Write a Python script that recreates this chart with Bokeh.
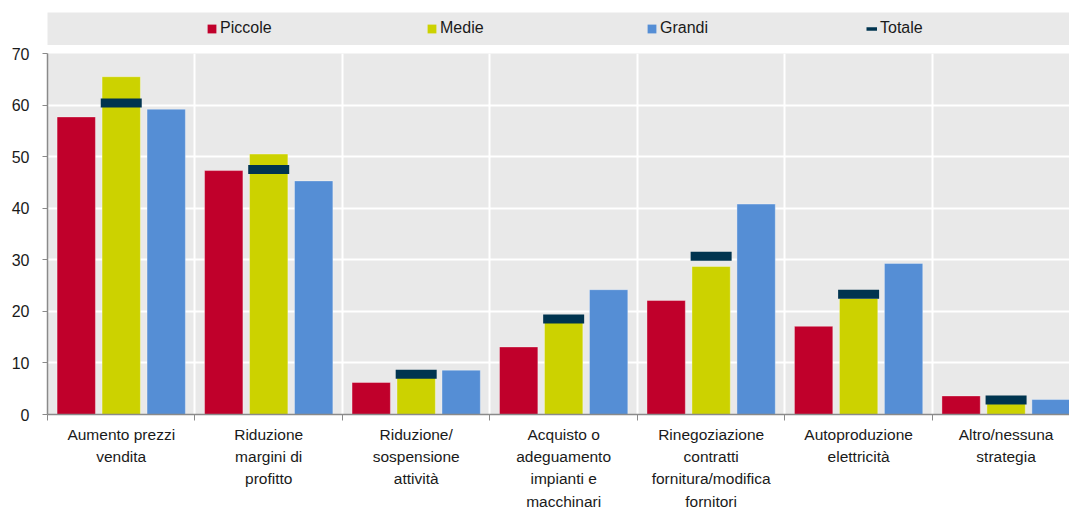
import numpy as np
from bokeh.plotting import figure
from bokeh.models import ColumnDataSource, FixedTicker, Legend, LegendItem, Range1d
from bokeh.transform import dodge
from bokeh.layouts import column
from bokeh.embed import file_html
from bokeh.resources import INLINE

categories = [
    "Aumento prezzi\nvendita",
    "Riduzione\nmargini di\nprofitto",
    "Riduzione/\nsospensione\nattività",
    "Acquisto o\nadeguamento\nimpianti e\nmacchinari",
    "Rinegoziazione\ncontratti\nfornitura/modifica\nfornitori",
    "Autoproduzione\nelettricità",
    "Altro/nessuna\nstrategia",
]
piccole = [57.7, 47.3, 6.2, 13.1, 22.1, 17.1, 3.6]
medie = [65.5, 50.5, 7.2, 18.0, 28.7, 22.5, 2.1]
grandi = [59.2, 45.3, 8.6, 24.2, 40.8, 29.3, 2.9]
totale = [60.4, 47.5, 7.8, 18.5, 30.7, 23.3, 2.8]
y_ticks = [0, 10, 20, 30, 40, 50, 60, 70]

RED = "#C0002B"
YEL = "#CCD200"
BLUE = "#558ED5"
NAVY = "#00344F"
BG = "#E9E9E9"
FONT = "Liberation Sans"
GRAYAX = "#8A8A8A"

n = len(categories)
centers = [i + 0.5 for i in range(n)]
bounds = list(range(n + 1))

src = ColumnDataSource(dict(x=centers, piccole=piccole, medie=medie,
                            grandi=grandi, totale=totale))

p = figure(width=1069, height=467, x_range=Range1d(0, 6.93), y_range=Range1d(0, 70),
           toolbar_location=None, output_backend="svg",
           min_border_left=47, min_border_right=0, min_border_top=8, min_border_bottom=97,
           background_fill_color=BG, border_fill_color="white", outline_line_color=None)

BW = 0.26
OFF = 0.305
p.vbar(x=dodge("x", -OFF, range=p.x_range), top="piccole", width=BW, source=src,
       fill_color=RED, line_color="white", line_alpha=0.35, line_width=1)
p.vbar(x=dodge("x", 0, range=p.x_range), top="medie", width=BW, source=src,
       fill_color=YEL, line_color="white", line_alpha=0.35, line_width=1)
p.vbar(x=dodge("x", OFF, range=p.x_range), top="grandi", width=BW, source=src,
       fill_color=BLUE, line_color="white", line_alpha=0.35, line_width=1)
p.rect(x="x", y="totale", width=0.278, height=9, height_units="screen", source=src,
       fill_color=NAVY, line_color=None)

# axes
p.xaxis.ticker = FixedTicker(ticks=centers, minor_ticks=bounds)
p.xaxis.major_label_overrides = {c: lab for c, lab in zip(centers, categories)}
p.xaxis.major_tick_out = 0
p.xaxis.major_tick_in = 0
p.xaxis.minor_tick_out = 6
p.xaxis.minor_tick_in = 0
p.xaxis.minor_tick_line_color = GRAYAX
p.xaxis.axis_line_color = GRAYAX
p.xaxis.axis_line_width = 1.5
p.xaxis.major_label_text_font = FONT
p.xaxis.major_label_text_font_size = "15.5px"
p.xaxis.major_label_text_color = "#1a1a1a"
p.xaxis.major_label_text_line_height = 1.32
p.xaxis.major_label_standoff = 5

p.yaxis.ticker = FixedTicker(ticks=y_ticks)
p.yaxis.minor_tick_line_color = None
p.yaxis.major_tick_out = 5
p.yaxis.major_tick_in = 0
p.yaxis.major_tick_line_color = GRAYAX
p.yaxis.axis_line_color = GRAYAX
p.yaxis.axis_line_width = 1.5
p.yaxis.major_label_text_font = FONT
p.yaxis.major_label_text_font_size = "16px"
p.yaxis.major_label_text_color = "#1a1a1a"
p.yaxis.major_label_standoff = 13

p.xgrid.ticker = FixedTicker(ticks=bounds)
p.xgrid.grid_line_color = "white"
p.xgrid.grid_line_width = 2
p.ygrid.grid_line_color = "white"
p.ygrid.grid_line_width = 2

# legend band
lf = figure(width=1069, height=45, x_range=(0, 1), y_range=(0, 1),
            toolbar_location=None, output_backend="svg",
            x_axis_location=None, y_axis_location=None,
            min_border_left=47, min_border_right=0, min_border_top=12, min_border_bottom=0,
            background_fill_color=BG, border_fill_color="white", outline_line_color=None)
lf.grid.visible = False
r1 = lf.vbar(x=[-10], top=[0], width=0.1, fill_color=RED, line_color=None)
r2 = lf.vbar(x=[-10], top=[0], width=0.1, fill_color=YEL, line_color=None)
r3 = lf.vbar(x=[-10], top=[0], width=0.1, fill_color=BLUE, line_color=None)
r4 = lf.line(x=[-10, -9], y=[0, 0], line_color=NAVY, line_width=3.5)
legend = Legend(items=[LegendItem(label="Piccole", renderers=[r1]),
                       LegendItem(label="Medie", renderers=[r2]),
                       LegendItem(label="Grandi", renderers=[r3]),
                       LegendItem(label="Totale", renderers=[r4])],
                orientation="horizontal", location=(159, 7),
                glyph_width=11, glyph_height=11, label_standoff=3, label_width=60,
                label_height=20, spacing=146, padding=0, margin=0,
                border_line_color=None, background_fill_alpha=0,
                label_text_font=FONT, label_text_font_size="16px",
                label_text_color="#1a1a1a")
lf.add_layout(legend)

layout = column(lf, p)
open("out.html", "w").write(file_html(layout, INLINE))
